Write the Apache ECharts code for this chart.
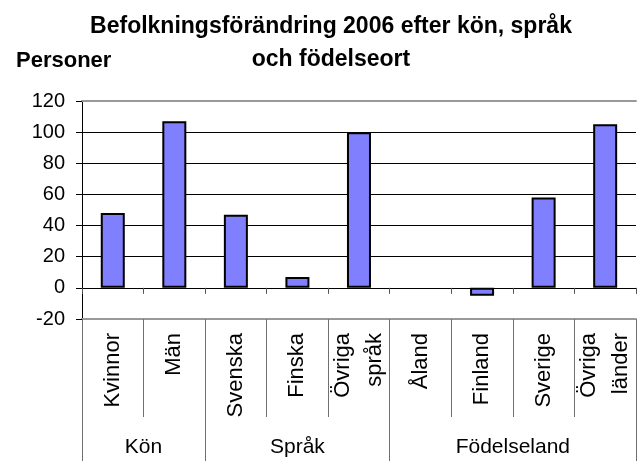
<!DOCTYPE html>
<html>
<head>
<meta charset="utf-8">
<script src="https://cdn.jsdelivr.net/npm/echarts@6/dist/echarts.min.js"></script>
<style>
  html, body { margin: 0; padding: 0; background: #fff; }
  #chart { width: 637px; height: 461px; }
</style>
</head>
<body>
<div id="chart"></div>
<script>
  // data
  var categories = ['Kvinnor', 'Män', 'Svenska', 'Finska', 'Övriga\nspråk', 'Åland', 'Finland', 'Sverige', 'Övriga\nländer'];
  var values = [48, 107, 47, 7, 100, 0, -5, 58, 105];
  var groupNames = ['Kön', 'Språk', 'Födelseland'];
  var groupBounds = [0, 2, 5, 9];      // category boundaries between groups
  var groupCenters = [1, 3.5, 7];
  var yTicks = [-20, 0, 20, 40, 60, 80, 100, 120];

  var font = 'Liberation Sans, Arial, sans-serif';
  var chart = echarts.init(document.getElementById('chart'));

  // zero bars get no outline (nothing visible in the original)
  var barData = values.map(function (v) {
    return v === 0 ? { value: v, itemStyle: { borderWidth: 0 } } : v;
  });

  var option = {
    animation: false,
    title: [{
      text: 'Befolkningsförändring 2006 efter kön, språk\noch födelseort',
      left: 326,
      top: 5,
      textAlign: 'center',
      textStyle: { fontFamily: font, fontSize: 23, fontWeight: 'bold', color: '#000', lineHeight: 33 }
    }, {
      text: 'Personer',
      left: 11,
      top: 43,
      textStyle: { fontFamily: font, fontSize: 22, fontWeight: 'bold', color: '#000', lineHeight: 26 }
    }],
    grid: { left: 82, top: 101, width: 557, height: 218 },
    xAxis: [{
      // category labels below the plot
      type: 'category',
      data: categories,
      position: 'bottom',
      axisLine: { onZero: false, lineStyle: { color: '#999', width: 2 } },
      axisTick: { show: true, length: 98, lineStyle: { color: '#707070', width: 1 } },
      axisLabel: {
        interval: 0, rotate: 90, margin: 14,
        fontFamily: font, fontSize: 22, color: '#000', lineHeight: 32
      }
    }, {
      // group labels + long separators
      type: 'value',
      min: 0, max: 9,
      position: 'bottom',
      axisLine: { show: false, onZero: false },
      splitLine: { show: false },
      axisTick: { show: true, customValues: groupBounds, length: 150, lineStyle: { color: '#707070', width: 1 } },
      axisLabel: {
        customValues: groupCenters, margin: 118,
        fontFamily: font, fontSize: 21, color: '#000', lineHeight: 21,
        formatter: function (v) { return groupNames[groupCenters.indexOf(v)]; }
      }
    }, {
      // zero line with short ticks
      type: 'category',
      data: categories,
      position: 'bottom',
      axisLine: { onZero: true, lineStyle: { color: '#000', width: 1 } },
      axisTick: { show: true, length: 6, lineStyle: { color: '#555' } },
      axisLabel: { show: false }
    }, {
      // top border
      type: 'category',
      data: categories,
      position: 'top',
      axisLine: { onZero: false, lineStyle: { color: '#999', width: 2 } },
      axisTick: { show: false },
      axisLabel: { show: false }
    }],
    yAxis: {
      type: 'value',
      min: yTicks[0],
      max: yTicks[yTicks.length - 1],
      interval: 20,
      axisLine: { show: true, lineStyle: { color: '#000', width: 1 } },
      axisTick: { show: true, length: 6, lineStyle: { color: '#000' } },
      axisLabel: { margin: 17, fontFamily: font, fontSize: 20, color: '#000' },
      splitLine: { show: true, showMinLine: false, showMaxLine: false, lineStyle: { color: '#000', width: 1 } }
    },
    series: [{
      type: 'bar',
      xAxisIndex: 0,
      data: barData,
      barWidth: 24,
      itemStyle: { color: '#8080ff', borderColor: '#000', borderWidth: 2 }
    }]
  };

  chart.setOption(option);
</script>
</body>
</html>
